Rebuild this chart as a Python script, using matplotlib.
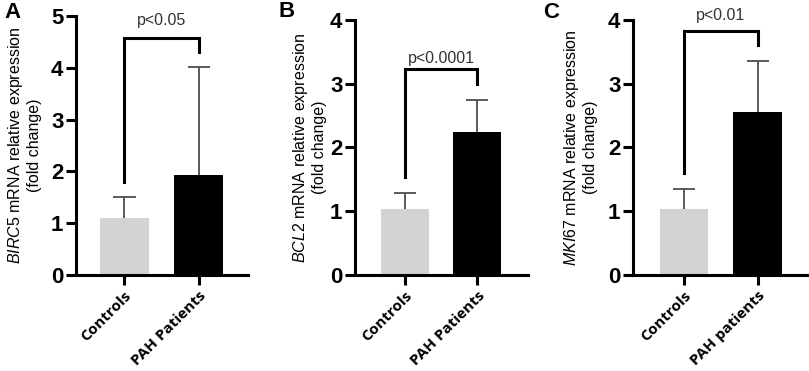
import matplotlib
matplotlib.use("Agg")
import matplotlib.pyplot as plt
import numpy as np

plt.rcParams["font.family"] = ["Liberation Sans", "DejaVu Sans"]
plt.rcParams["mathtext.fontset"] = "custom"
plt.rcParams["mathtext.rm"] = "Liberation Sans"
plt.rcParams["mathtext.it"] = "Liberation Sans:italic"

# --- data -----------------------------------------------------
panels = ["A", "B", "C"]
genes = ["BIRC5", "BCL2", "MKI67"]
groups_ab = ["Controls", "PAH Patients"]
groups_c = ["Controls", "PAH patients"]
means = [[1.10, 1.93], [1.03, 2.24], [1.03, 2.56]]
sds = [[0.41, 2.08], [0.26, 0.51], [0.32, 0.80]]
ymax = [5, 4, 4]
pvals = ["p<0.05", "p<0.0001", "p<0.01"]
bracket_top = [4.58, 3.23, 3.83]
bracket_legs = [[1.80, 4.30], [1.53, 3.00], [1.60, 3.60]]

bar_colors = ["#d3d3d3", "#000000"]

fig = plt.figure(figsize=(8.09, 3.71), dpi=100)
rects = [[0.0939, 0.2588, 0.2126, 0.6981],
         [0.4388, 0.2588, 0.2138, 0.6873],
         [0.7824, 0.2588, 0.2151, 0.6873]]
xlims = [(-0.65, 1.66), (-0.69, 1.70), (-0.69, 1.67)]
ylab_x = [-0.30, -0.265, -0.305]
letter_pos = [(0.016, 0.965), (0.354, 0.97), (0.681, 0.965)]
ptext_off = [7, 2.5, 6]

for i in range(3):
    ax = fig.add_axes(rects[i])
    x = np.arange(2)
    m = np.array(means[i])
    top_err = m + np.array(sds[i])
    # upper error bars only (line + cap)
    ax.vlines(x, m, top_err, color="#4d4d4d", lw=1.3, zorder=1)
    ax.hlines(top_err, x - 0.15, x + 0.15, color="#4d4d4d", lw=1.3, zorder=1)
    ax.bar(x, m, width=0.66, color=bar_colors, zorder=2)

    # significance bracket
    l0, l1 = bracket_legs[i]
    top = bracket_top[i]
    ax.plot([0, 0, 1, 1], [l0, top, top, l1], color="black", lw=2.2,
            solid_joinstyle="miter", clip_on=False, zorder=3)
    ax.annotate(pvals[i], (0.5, top), xytext=(0, ptext_off[i]),
                textcoords="offset points", ha="center", va="bottom",
                fontsize=11.5, color="#333333", annotation_clip=False)

    ax.set_xlim(*xlims[i])
    ax.set_ylim(0, ymax[i])
    ax.set_yticks(range(ymax[i] + 1))
    ax.set_xticks(x)
    labels = groups_c if i == 2 else groups_ab
    ax.set_xticklabels(labels, rotation=45, ha="right", rotation_mode="anchor",
                       fontsize=11, fontweight="bold", family="Open Sans")
    for lab in ax.get_yticklabels():
        lab.set_fontsize(16)
        lab.set_fontweight("bold")
    ax.tick_params(axis="both", width=2.2, length=7, direction="out")
    ax.tick_params(axis="y", pad=2)
    ax.tick_params(axis="x", pad=3)
    for s in ["top", "right"]:
        ax.spines[s].set_visible(False)
    for s in ["left", "bottom"]:
        ax.spines[s].set_linewidth(2.2)

    ax.text(ylab_x[i], 0.5,
            r"$\mathit{" + genes[i] + r"}$ mRNA relative expression" + "\n(fold change)",
            transform=ax.transAxes, rotation=90, ha="center", va="center",
            multialignment="center", fontsize=11.5, linespacing=1.15)

    fig.text(letter_pos[i][0], letter_pos[i][1], panels[i], fontsize=16,
             fontweight="bold", ha="center", va="center")

fig.savefig("out.png", dpi=100)
